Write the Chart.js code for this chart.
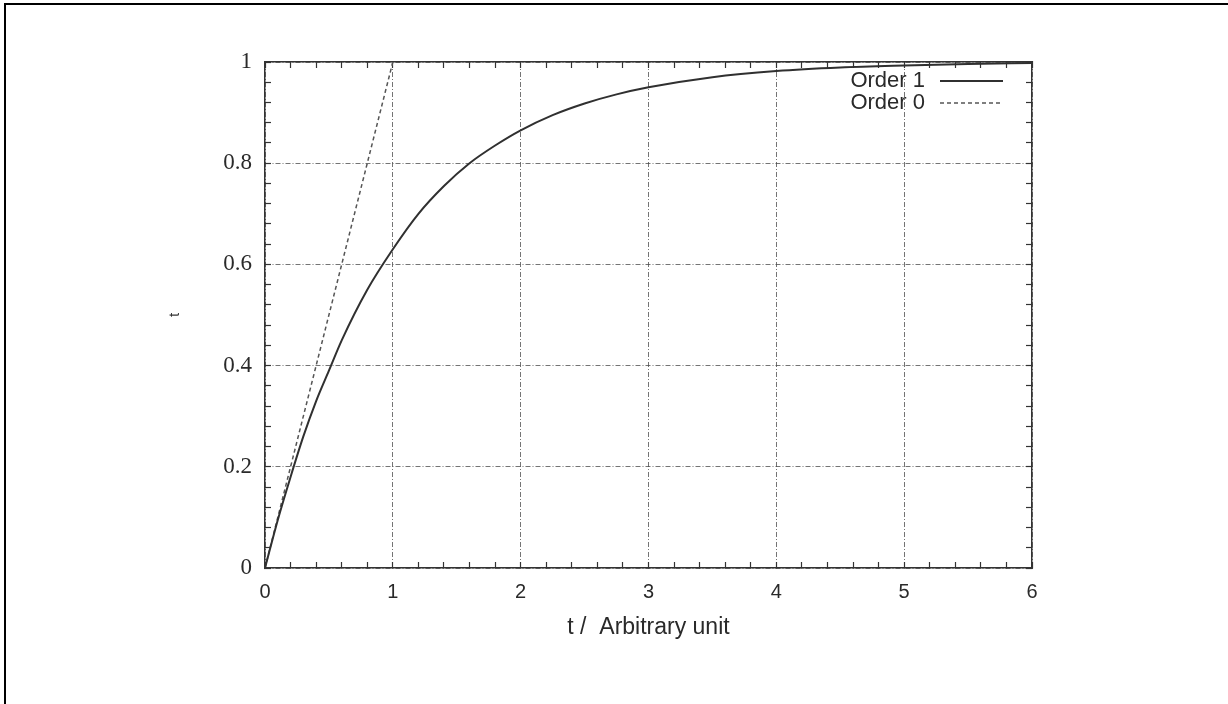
<!DOCTYPE html>
<html>
<head>
<meta charset="utf-8">
<script src="https://cdn.jsdelivr.net/npm/chart.js@4.4.0/dist/chart.umd.min.js"></script>
<style>
    html, body { margin: 0; padding: 0; background: #fff; }
    #wrap { position: relative; width: 1228px; height: 704px; }
    #frame { position: absolute; left: 4px; top: 3px; right: 0; bottom: 0;
             border-left: 2px solid #000; border-top: 2px solid #000; pointer-events: none; }
</style>
</head>
<body>
<div id="wrap">
    <canvas id="chart" width="1228" height="704"></canvas>
    <div id="frame"></div>
</div>
<script>
// data
let order1T = [0, 0.1, 0.2, 0.3, 0.4, 0.5, 0.6, 0.8, 1, 1.2, 1.4, 1.6, 1.8, 2, 2.25, 2.5, 2.75, 3, 3.5, 4, 4.5, 5, 5.5, 6];
let order1Y = [0, 0.095, 0.18, 0.26, 0.33, 0.39, 0.45, 0.55, 0.63, 0.70, 0.755, 0.80, 0.835, 0.865, 0.895, 0.918, 0.936, 0.95, 0.97, 0.982, 0.989, 0.993, 0.996, 0.998];
let order0T = [0, 1];
let order0Y = [0, 1];
let seriesNames = ['Order 1', 'Order 0'];
let xTitle = 't /  Arbitrary unit';
let yTitle = 't';

function toPoints(xs, ys)
{
    let pts = [];
    xs.forEach((x, i) => pts.push({x: x, y: ys[i]}));
    return pts;
}

function isMultiple(v, step)
{
    return Math.abs(v / step - Math.round(v / step)) < 1e-6;
}

// grid line only on major ticks, minor ones keep just the tick mark
function gridColor(step)
{
    return function(ctx) {
        if (!ctx.tick) return 'transparent';
        return isMultiple(ctx.tick.value, step) ? 'rgba(70,70,70,0.75)' : 'transparent';
    };
}

// gnuplot style legend: text first, sample line after it
let legendPlugin = {
    id: 'gnuLegend',
    afterDraw(chart) {
        let ctx = chart.ctx;
        let area = chart.chartArea;
        ctx.save();
        ctx.font = '22px "Liberation Sans", Arial, sans-serif';
        ctx.fillStyle = '#2a2a2a';
        ctx.textAlign = 'right';
        ctx.textBaseline = 'middle';
        chart.data.datasets.forEach((ds, i) => {
            let y = area.top + 19 + i * 22;
            ctx.fillText(ds.label, area.right - 107, y);
            ctx.beginPath();
            ctx.setLineDash(ds.borderDash || []);
            ctx.strokeStyle = ds.borderColor;
            ctx.lineWidth = ds.borderWidth;
            ctx.moveTo(area.right - 92, y);
            ctx.lineTo(area.right - 29, y);
            ctx.stroke();
        });
        ctx.restore();
    }
};

let tickMarks = {
    drawTicks: true,
    tickLength: -6,
    tickColor: '#333',
    tickWidth: 1.2
};

let config = {
    type: 'scatter',
    data: {
        datasets: [
            {
                label: seriesNames[0],
                data: toPoints(order1T, order1Y),
                showLine: true,
                borderColor: '#303030',
                borderWidth: 2,
                pointRadius: 0,
                cubicInterpolationMode: 'monotone'
            },
            {
                label: seriesNames[1],
                data: toPoints(order0T, order0Y),
                showLine: true,
                borderColor: '#555',
                borderWidth: 1.5,
                borderDash: [4, 3],
                pointRadius: 0
            }
        ]
    },
    options: {
        responsive: false,
        animation: false,
        layout: { padding: 0 },
        plugins: { legend: { display: false }, tooltip: { enabled: false } },
        scales: {
            x: {
                type: 'linear', position: 'bottom', min: 0, max: 6,
                afterFit(scale) { scale.height = 136; },
                ticks: {
                    stepSize: 0.2, autoSkip: false, maxRotation: 0, padding: 18,
                    color: '#2a2a2a',
                    font: { family: '"Liberation Sans", Arial, sans-serif', size: 20 },
                    callback: v => isMultiple(v, 1) ? String(Math.round(v)) : ''
                },
                grid: Object.assign({ color: gridColor(1), lineWidth: 1 }, tickMarks),
                border: { color: '#333', width: 1.5, dash: [5, 2, 1, 2] },
                title: {
                    display: true, text: xTitle, color: '#2a2a2a',
                    font: { family: '"Liberation Sans", Arial, sans-serif', size: 23 },
                    padding: { top: 0, bottom: 63 }
                }
            },
            x2: {
                type: 'linear', position: 'top', min: 0, max: 6,
                afterFit(scale) { scale.height = 62; },
                ticks: { stepSize: 0.2, autoSkip: false, display: false },
                grid: Object.assign({ drawOnChartArea: false }, tickMarks),
                border: { color: '#333', width: 1.5 }
            },
            y: {
                type: 'linear', position: 'left', min: 0, max: 1,
                afterFit(scale) { scale.width = 265; },
                ticks: {
                    stepSize: 0.04, autoSkip: false, padding: 19,
                    color: '#2a2a2a',
                    font: { family: '"Liberation Serif", "Times New Roman", serif', size: 23 },
                    callback: v => isMultiple(v, 0.2) ? String(Number(v.toFixed(1))) : ''
                },
                grid: Object.assign({ color: gridColor(0.2), lineWidth: 1 }, tickMarks),
                border: { color: '#333', width: 1.5, dash: [5, 2, 1, 2] },
                title: {
                    display: true, text: yTitle, color: '#333',
                    font: { family: '"Liberation Sans", Arial, sans-serif', size: 15 },
                    padding: { top: 166, bottom: 0 }
                }
            },
            y2: {
                type: 'linear', position: 'right', min: 0, max: 1,
                afterFit(scale) { scale.width = 196; },
                ticks: { stepSize: 0.04, autoSkip: false, display: false },
                grid: Object.assign({ drawOnChartArea: false }, tickMarks),
                border: { color: '#333', width: 1.5 }
            }
        }
    },
    plugins: [legendPlugin]
};

let canvas = document.getElementById('chart');
let chart = new Chart(canvas, config);
</script>
</body>
</html>
